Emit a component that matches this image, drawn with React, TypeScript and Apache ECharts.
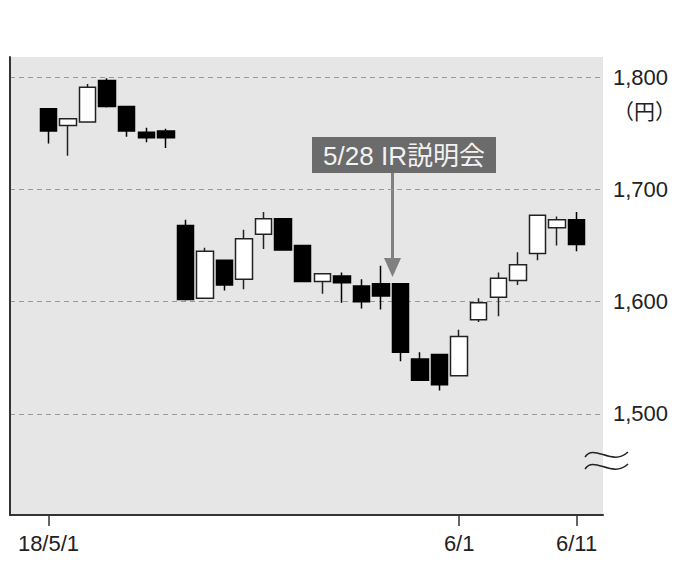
import React, { useEffect, useRef } from "react";
import * as echarts from "echarts";

const categories = [
  "18/5/1", "5/2", "5/7", "5/8", "5/9", "5/10", "5/11", "5/14", "5/15", "5/16",
  "5/17", "5/18", "5/21", "5/22", "5/23", "5/24", "5/25", "5/28", "5/29", "5/30",
  "5/31", "6/1", "6/4", "6/5", "6/6", "6/7", "6/8", "6/11",
];
const opens = [1772, 1757, 1760, 1797, 1774, 1751, 1752, 1668, 1603, 1637, 1620, 1660, 1674, 1650, 1618, 1623, 1614, 1616, 1616, 1549, 1553, 1534, 1584, 1604, 1619, 1643, 1666, 1673];
const closes = [1752, 1763, 1791, 1774, 1752, 1746, 1746, 1602, 1645, 1615, 1656, 1674, 1646, 1618, 1625, 1617, 1600, 1605, 1555, 1530, 1526, 1569, 1599, 1621, 1633, 1677, 1673, 1651];
const lows = [1741, 1730, 1760, 1773, 1747, 1742, 1737, 1601, 1603, 1610, 1611, 1647, 1646, 1618, 1607, 1599, 1594, 1593, 1547, 1530, 1521, 1534, 1582, 1587, 1615, 1637, 1650, 1645];
const highs = [1772, 1763, 1794, 1799, 1774, 1755, 1754, 1673, 1648, 1637, 1664, 1680, 1674, 1650, 1625, 1626, 1620, 1632, 1616, 1555, 1553, 1575, 1603, 1626, 1644, 1677, 1676, 1680];
const shownDates = ["18/5/1", "6/1", "6/11"];
const yTicks = [1500, 1600, 1700, 1800];
const annotationText = "5/28 IR説明会";
const unitText = "（円）";

const FONT = "'Liberation Sans', Arial, 'Noto Sans CJK JP', sans-serif";

export default function App() {
  const ref = useRef<HTMLDivElement>(null);
  useEffect(() => {
    if (!ref.current) return;
    const chart = echarts.init(ref.current, undefined, { renderer: "svg" });
    const candleData = categories.map((_, i) => [opens[i], closes[i], lows[i], highs[i]]);
    const showIdx = (i: number) => shownDates.includes(categories[i]);
    chart.setOption({
      animation: false,
      backgroundColor: "#ffffff",
      grid: [
        { left: 10, right: 97, top: 57, bottom: 50, show: true, backgroundColor: "#e6e6e6", borderWidth: 0 },
        { left: 38.7, right: 113.7, top: 57, bottom: 50 },
      ],
      xAxis: [
        {
          gridIndex: 0,
          type: "value",
          min: 0,
          max: 1,
          axisLine: { show: true, onZero: false, lineStyle: { color: "#333", width: 2 } },
          axisTick: { show: false },
          axisLabel: { show: false },
          splitLine: { show: false },
        },
        {
          gridIndex: 1,
          type: "category",
          data: categories,
          boundaryGap: true,
          axisLine: { show: false },
          axisTick: {
            show: true,
            alignWithLabel: true,
            interval: (i: number) => showIdx(i),
            length: 11,
            lineStyle: { color: "#333", width: 1.5 },
          },
          axisLabel: {
            interval: (i: number) => showIdx(i),
            margin: 17,
            fontSize: 22,
            fontFamily: FONT,
            color: "#222",
          },
        },
      ],
      yAxis: [
        {
          gridIndex: 0,
          type: "value",
          position: "right",
          min: 1410,
          max: 1818,
          axisLine: { show: true, lineStyle: { color: "#333", width: 2 } },
          axisTick: { show: false },
          splitLine: {
            show: true,
            showMinLine: false,
            showMaxLine: false,
            lineStyle: { color: "#999", type: [5, 4], width: 1 },
          },
          axisLabel: {
            margin: 10,
            fontSize: 22,
            fontFamily: FONT,
            color: "#222",
            formatter: (v: number) => (yTicks.includes(v) ? v.toLocaleString("en-US") : ""),
          },
        },
        {
          gridIndex: 1,
          type: "value",
          min: 1410,
          max: 1818,
          show: false,
          splitLine: { show: false },
        },
      ],
      series: [
        {
          type: "candlestick",
          xAxisIndex: 1,
          yAxisIndex: 1,
          data: candleData,
          barWidth: 17,
          itemStyle: {
            color: "#ffffff",
            color0: "#000000",
            borderColor: "#222222",
            borderColor0: "#000000",
            borderWidth: 1.5,
          },
        },
      ],
      graphic: [
        {
          type: "text",
          x: 644.5,
          y: 110,
          style: {
            text: unitText,
            font: `21px 'Noto Sans CJK JP', sans-serif`,
            fill: "#222",
            align: "center",
            verticalAlign: "middle",
          },
        },
        {
          type: "rect",
          shape: { x: 312, y: 137, width: 184, height: 36 },
          style: { fill: "#6b6b6b" },
        },
        {
          type: "text",
          x: 404,
          y: 156,
          style: {
            text: annotationText,
            font: `26px 'Liberation Sans', 'Noto Sans CJK JP', sans-serif`,
            fill: "#f2f2f2",
            align: "center",
            verticalAlign: "middle",
          },
        },
        {
          type: "line",
          shape: { x1: 392.5, y1: 173, x2: 392.5, y2: 262 },
          style: { stroke: "#808080", lineWidth: 3 },
        },
        {
          type: "polygon",
          shape: { points: [[384, 258], [401, 258], [392.5, 277]] },
          style: { fill: "#808080" },
        },
        {
          type: "bezierCurve",
          shape: { x1: 585, y1: 457, cpx1: 594, cpy1: 443, cpx2: 612, cpy2: 467, x2: 628, y2: 452 },
          style: { stroke: "#222", lineWidth: 1.5, fill: null },
        },
        {
          type: "bezierCurve",
          shape: { x1: 585, y1: 469, cpx1: 594, cpy1: 455, cpx2: 612, cpy2: 479, x2: 628, y2: 464 },
          style: { stroke: "#222", lineWidth: 1.5, fill: null },
        },
      ],
    });
    return () => chart.dispose();
  }, []);
  return (
    <div
      ref={ref}
      style={{ position: "fixed", left: 0, top: 0, width: 700, height: 565 }}
    />
  );
}
